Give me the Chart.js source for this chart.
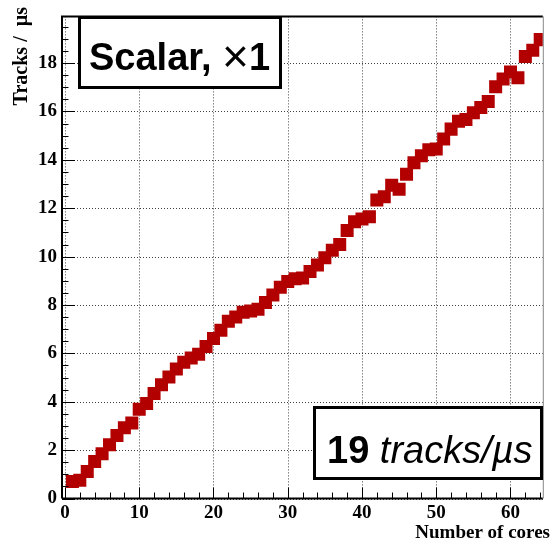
<!DOCTYPE html>
<html>
<head>
<meta charset="utf-8">
<script src="https://cdn.jsdelivr.net/npm/chart.js@4.4.1/dist/chart.umd.min.js"></script>
<style>
html, body { margin: 0; padding: 0; background: #fff; }
</style>
</head>
<body>
<canvas id="scalingGraphe" width="552" height="544"></canvas>
<script>
// Débit en fonction du nombre de coeurs
const cores = [
    1, 2, 3, 4, 5, 6, 7, 8, 9, 10, 11, 12, 13, 14, 15, 16,
    17, 18, 19, 20, 21, 22, 23, 24, 25, 26, 27, 28, 29, 30, 31, 32,
    33, 34, 35, 36, 37, 38, 39, 40, 41, 42, 43, 44, 45, 46, 47, 48,
    49, 50, 51, 52, 53, 54, 55, 56, 57, 58, 59, 60, 61, 62, 63, 64
];
const tracksPerUs = [
    0.70, 0.75, 1.12, 1.53, 1.85, 2.22, 2.60, 2.92, 3.12, 3.69, 3.93, 4.34, 4.70, 5.02, 5.35, 5.63,
    5.81, 5.96, 6.28, 6.61, 6.96, 7.33, 7.50, 7.70, 7.75, 7.82, 8.10, 8.41, 8.73, 8.97, 9.08, 9.12,
    9.38, 9.65, 9.95, 10.26, 10.50, 11.08, 11.44, 11.55, 11.65, 12.34, 12.47, 12.95, 12.78, 13.40, 13.88, 14.17,
    14.42, 14.45, 14.86, 15.27, 15.60, 15.67, 15.95, 16.16, 16.41, 17.02, 17.34, 17.63, 17.39, 18.27, 18.53, 18.97
];
const xTicks = [0, 10, 20, 30, 40, 50, 60];
const yTicks = [0, 2, 4, 6, 8, 10, 12, 14, 16, 18];

const markerColor = "#b20000";
const serif = "'Liberation Serif', 'Times New Roman', serif";
const sans = "'Liberation Sans', Arial, sans-serif";

// Écrit une suite de morceaux de texte avec des polices différentes
function drawRuns(ctx, x, y, runs) {
    ctx.textAlign = "left";
    ctx.textBaseline = "alphabetic";
    for (const run of runs) {
        ctx.font = run.font;
        ctx.fillText(run.text, x, y + (run.dy || 0));
        x += ctx.measureText(run.text).width;
    }
}

function drawPave(ctx, x, y, w, h) {
    ctx.fillStyle = "#fff";
    ctx.fillRect(x, y, w, h);
    ctx.lineWidth = 3;
    ctx.strokeStyle = "#000";
    ctx.strokeRect(x + 1.5, y + 1.5, w - 3, h - 3);
}

// Cadre, grille pointillée, graduations et encadrés façon ROOT
const rootFrame = {
    id: "rootFrame",
    beforeDatasetsDraw(chart) {
        const { ctx, chartArea: a, scales: { x, y } } = chart;
        ctx.save();
        ctx.strokeStyle = "rgba(0,0,0,0.75)";
        ctx.lineWidth = 1;
        ctx.setLineDash([1, 2]);
        ctx.beginPath();
        xTicks.forEach(v => {
            const px = Math.round(x.getPixelForValue(v)) + 0.5;
            ctx.moveTo(px, a.top);
            ctx.lineTo(px, a.bottom);
        });
        yTicks.forEach(v => {
            const py = Math.round(y.getPixelForValue(v)) + 0.5;
            ctx.moveTo(a.left, py);
            ctx.lineTo(a.right, py);
        });
        ctx.stroke();
        ctx.restore();
    },
    afterDatasetsDraw(chart) {
        const { ctx, chartArea: a, scales: { x, y } } = chart;
        ctx.save();
        ctx.strokeStyle = "#000";
        ctx.lineWidth = 1;
        ctx.beginPath();
        // graduations axe x : majeures tous les 10, mineures tous les 2
        for (let v = 0; v <= 64; v += 2) {
            const px = Math.round(x.getPixelForValue(v)) + 0.5;
            const len = v % 10 === 0 ? 11 : 6;
            ctx.moveTo(px, a.bottom);
            ctx.lineTo(px, a.bottom - len);
        }
        // graduations axe y : majeures tous les 2, mineures tous les 0.5
        for (let v = 0; v <= 19.5; v += 0.5) {
            const py = Math.round(y.getPixelForValue(v)) + 0.5;
            const len = v % 2 === 0 ? 13 : 6.5;
            ctx.moveTo(a.left, py);
            ctx.lineTo(a.left + len, py);
        }
        ctx.stroke();

        // cadre
        ctx.lineWidth = 2;
        ctx.beginPath();
        ctx.moveTo(a.left, a.bottom);
        ctx.lineTo(a.left, a.top);
        ctx.lineTo(a.right, a.top);
        ctx.moveTo(a.left, a.bottom);
        ctx.lineTo(a.right, a.bottom);
        ctx.stroke();
        ctx.strokeStyle = "#888";
        ctx.lineWidth = 1;
        ctx.beginPath();
        ctx.moveTo(a.right + 0.5, a.top);
        ctx.lineTo(a.right + 0.5, a.bottom);
        ctx.stroke();

        // encadrés
        drawPave(ctx, 78, 16, 204, 73);
        ctx.fillStyle = "#000";
        drawRuns(ctx, 89, 70, [
            { text: "Scalar, ", font: "bold 38px " + sans },
            { text: "\u00d7", font: "46px " + sans, dy: 2 },
            { text: "1", font: "bold 38px " + sans }
        ]);

        drawPave(ctx, 313, 406, 230, 74);
        ctx.fillStyle = "#000";
        drawRuns(ctx, 327, 463, [
            { text: "19 ", font: "bold 38px " + sans },
            { text: "tracks/\u00b5s", font: "italic 38px " + sans }
        ]);

        // titres des axes
        ctx.fillStyle = "#000";
        ctx.font = "bold 19px " + serif;
        ctx.textAlign = "right";
        ctx.textBaseline = "alphabetic";
        ctx.fillText("Number of cores", 550, 538);

        ctx.font = "bold 20px " + serif;
        ctx.translate(27, 7);
        ctx.rotate(-Math.PI / 2);
        ctx.fillText("Tracks /  \u00b5s", 0, 0);
        ctx.restore();
    }
};

const points = cores.map((c, i) => ({ x: c, y: tracksPerUs[i] }));
const tickFont = { family: serif, size: 19, weight: "bold" };

document.addEventListener("DOMContentLoaded", () => {
    const ctx = document.getElementById("scalingGraphe").getContext("2d");
    new Chart(ctx, {
        type: "scatter",
        data: {
            datasets: [{
                data: points,
                pointStyle: "rect",
                pointRadius: 9.2,
                pointHoverRadius: 9.2,
                backgroundColor: markerColor,
                borderWidth: 0
            }]
        },
        options: {
            responsive: false,
            animation: false,
            devicePixelRatio: 1,
            layout: { padding: { top: 7, right: 1, left: 0, bottom: 0 } },
            plugins: {
                legend: { display: false },
                tooltip: { enabled: false }
            },
            scales: {
                x: {
                    type: "linear",
                    min: -0.4,
                    max: 64.35,
                    grid: { display: false, drawTicks: false },
                    border: { display: false },
                    afterBuildTicks: s => { s.ticks = xTicks.map(v => ({ value: v })); },
                    afterFit: s => { s.height = 45.5; },
                    ticks: { font: tickFont, color: "#000", padding: 3, maxRotation: 0, autoSkip: false }
                },
                y: {
                    type: "linear",
                    min: 0,
                    max: 19.93,
                    grid: { display: false, drawTicks: false },
                    border: { display: false },
                    afterBuildTicks: s => { s.ticks = yTicks.map(v => ({ value: v })); },
                    afterFit: s => { s.width = 62; },
                    ticks: { font: tickFont, color: "#000", padding: 5, autoSkip: false }
                }
            }
        },
        plugins: [rootFrame]
    });
});
</script>
</body>
</html>
